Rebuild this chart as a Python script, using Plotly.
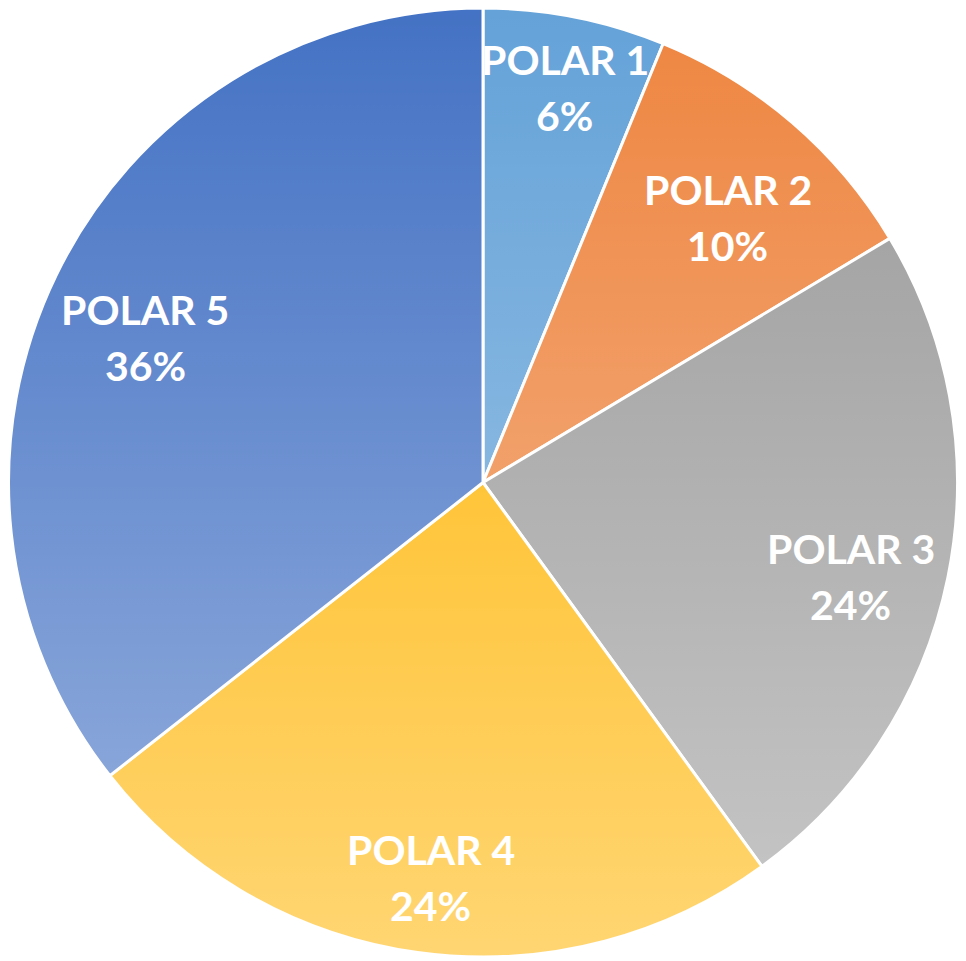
import base64
import math
import plotly.graph_objects as go

labels = ["POLAR 1", "POLAR 2", "POLAR 3", "POLAR 4", "POLAR 5"]
values = [6.2, 10.2, 23.6, 24.4, 35.6]
colors = ["#64A2D8", "#EE8540", "#9A9A9A", "#FFB400", "#4472C4"]

# style: fraction of pie radius where each label sits
LABEL_RADIUS = [0.89, 0.79, 0.79, 0.80, 0.79]
NAME_SHIFT = 9      # px vertical shift of the name line
PCT_SHIFT = -47     # px vertical shift of the percent line

fig = go.Figure(go.Pie(
    labels=labels,
    values=values,
    sort=False,
    direction="clockwise",
    rotation=0,
    marker=dict(colors=colors, line=dict(color="white", width=3)),
    textinfo="none",
    hoverinfo="label+percent",
    showlegend=False,
))

# labels placed along each slice's mid-angle (derived from the values)
total = sum(values)
annotations = []
cum = 0.0
font = dict(family="Lato", size=41, color="white", weight="bold")
for lab, v, rf in zip(labels, values, LABEL_RADIUS):
    mid = (cum + v / 2) / total * 2 * math.pi
    cum += v
    px = 0.5 + 0.5 * rf * math.sin(mid)
    py = 0.5 + 0.5 * rf * math.cos(mid)
    pct = f"{v / total * 100:.0f}%"
    annotations.append(dict(x=px, y=py, xref="paper", yref="paper", text=lab,
                            showarrow=False, font=font, yshift=NAME_SHIFT,
                            xanchor="center", yanchor="middle"))
    annotations.append(dict(x=px, y=py, xref="paper", yref="paper", text=pct,
                            showarrow=False, font=font, yshift=PCT_SHIFT,
                            xanchor="center", yanchor="middle"))

svg = (
    '<svg xmlns="http://www.w3.org/2000/svg" width="100" height="100" preserveAspectRatio="none">'
    '<defs><linearGradient id="g" x1="0" y1="0" x2="0" y2="1">'
    '<stop offset="0" stop-color="#ffffff" stop-opacity="0"/>'
    '<stop offset="1" stop-color="#ffffff" stop-opacity="0.45"/>'
    '</linearGradient></defs>'
    '<rect x="0" y="0" width="100" height="100" fill="url(#g)"/></svg>'
)
uri = "data:image/svg+xml;base64," + base64.b64encode(svg.encode()).decode()

fig.update_layout(
    width=966,
    height=961,
    margin=dict(l=0, r=16, t=0, b=12),
    paper_bgcolor="white",
    plot_bgcolor="white",
    annotations=annotations,
    images=[dict(source=uri, xref="paper", yref="paper", x=0, y=1,
                 sizex=1, sizey=1, sizing="stretch", layer="above",
                 xanchor="left", yanchor="top")],
)

fig.write_html("out.html")
